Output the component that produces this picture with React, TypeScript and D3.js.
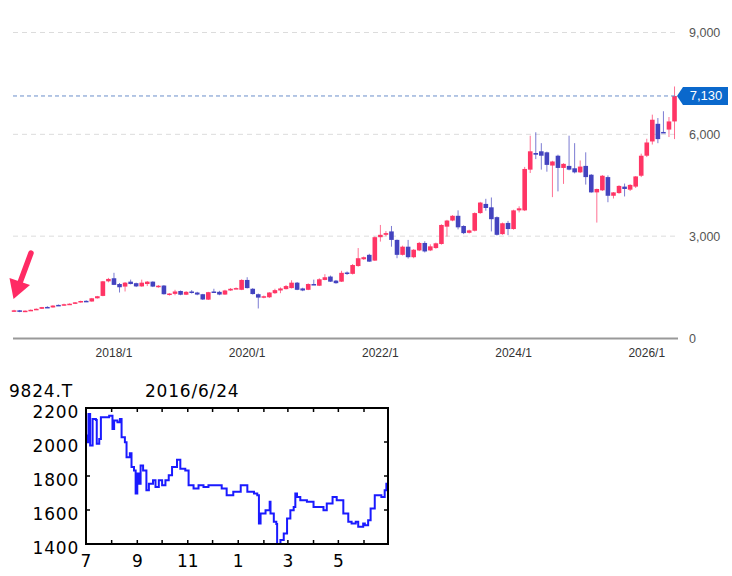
import React from 'react'
import * as d3 from 'd3'

// monthly candles, 2016/7 .. 2026/6 : [open, high, low, close]
const candles: [number, number, number, number][] = [
  [780, 830, 770, 815], [815, 825, 760, 770], [770, 810, 765, 805], [805, 840, 800, 830],
  [830, 870, 825, 860], [860, 915, 855, 910], [915, 935, 895, 900], [900, 965, 895, 955],
  [975, 985, 945, 960], [960, 1010, 950, 995], [995, 1020, 985, 1010], [1010, 1060, 1000, 1050],
  [1050, 1100, 1040, 1090], [1095, 1110, 1060, 1075], [1075, 1180, 1070, 1170], [1170, 1240, 1160, 1230],
  [1240, 1680, 1230, 1670], [1670, 1770, 1640, 1740], [1760, 1920, 1560, 1565], [1590, 1620, 1340, 1495],
  [1515, 1650, 1370, 1630], [1660, 1720, 1580, 1590], [1615, 1630, 1500, 1520], [1520, 1720, 1510, 1630],
  [1590, 1680, 1530, 1660], [1660, 1670, 1500, 1515], [1515, 1560, 1480, 1540], [1545, 1560, 1280, 1290],
  [1275, 1320, 1250, 1310], [1300, 1420, 1260, 1370], [1385, 1400, 1260, 1275], [1275, 1380, 1265, 1360],
  [1370, 1410, 1310, 1330], [1340, 1360, 1260, 1280], [1290, 1300, 1120, 1135], [1130, 1360, 1120, 1350],
  [1370, 1450, 1340, 1350], [1360, 1390, 1260, 1280], [1280, 1420, 1270, 1400], [1400, 1470, 1390, 1450],
  [1450, 1490, 1440, 1470], [1420, 1730, 1410, 1710], [1710, 1790, 1460, 1470], [1450, 1470, 1280, 1295],
  [1290, 1310, 870, 1190], [1190, 1250, 1170, 1230], [1200, 1350, 1180, 1340], [1320, 1450, 1300, 1410],
  [1400, 1490, 1320, 1460], [1440, 1560, 1430, 1530], [1470, 1700, 1460, 1630], [1630, 1650, 1410, 1420],
  [1460, 1480, 1380, 1400], [1420, 1610, 1410, 1590], [1590, 1720, 1560, 1570], [1540, 1760, 1530, 1730],
  [1710, 1880, 1700, 1790], [1810, 1840, 1650, 1660], [1690, 1710, 1600, 1615], [1660, 1980, 1650, 1920],
  [1930, 1960, 1860, 1890], [1890, 2180, 1870, 2150], [2120, 2650, 2100, 2350], [2320, 2400, 2300, 2380],
  [2450, 2480, 2240, 2250], [2280, 2990, 2270, 2970], [2970, 3330, 2840, 3040], [3040, 3150, 3000, 3090],
  [3140, 3300, 2690, 2890], [2890, 2900, 2350, 2450], [2450, 2720, 2430, 2690], [2690, 2890, 2340, 2380],
  [2380, 2620, 2350, 2600], [2580, 2830, 2560, 2800], [2800, 2850, 2520, 2550], [2580, 2760, 2560, 2700],
  [2650, 2810, 2630, 2790], [2770, 3350, 2750, 3330], [3280, 3480, 2990, 3460], [3460, 3620, 3440, 3600],
  [3600, 3760, 3200, 3260], [3300, 3320, 3060, 3090], [3100, 3190, 3080, 3170], [3160, 3700, 3140, 3680],
  [3680, 4010, 3660, 3990], [3950, 4100, 3750, 3830], [3850, 4140, 3140, 3500], [3560, 3580, 3020, 3040],
  [3060, 3400, 3040, 3380], [3390, 3450, 3030, 3210], [3210, 3780, 3190, 3760], [3760, 3880, 3700, 3820],
  [3760, 5040, 3740, 4980], [4960, 5960, 4860, 5500], [5450, 6060, 5270, 5400], [5500, 5740, 4960, 5370],
  [5470, 5490, 4900, 5100], [5080, 5220, 4150, 5200], [5370, 5400, 4320, 5010], [5010, 5150, 4540, 5130],
  [5070, 5960, 4940, 4960], [5000, 5740, 4850, 4880], [4880, 5230, 4860, 5050], [5070, 5470, 4520, 4740],
  [4810, 4830, 4280, 4290], [4290, 4400, 3400, 4390], [4350, 4800, 4330, 4780], [4740, 4790, 4000, 4190],
  [4190, 4300, 4110, 4290], [4270, 4500, 4250, 4480], [4460, 4550, 4170, 4390], [4370, 4530, 4330, 4510],
  [4460, 4770, 4420, 4760], [4780, 5430, 4740, 5370], [5370, 5870, 5330, 5760], [5790, 6580, 5700, 6430],
  [6310, 6480, 5740, 5860], [6070, 6680, 6040, 6050], [6140, 6510, 5920, 6380], [6380, 7410, 5860, 7130],
]
const startYear = 2016
const startMonth = 7
const xTickLabels = ['2018/1', '2020/1', '2022/1', '2024/1', '2026/1']
const yTicks = [0, 3000, 6000, 9000]
const lastPrice = 7130

// small one-year chart: days from 2015/7/1, closing price
const lineDays = [0, 1, 3, 5, 8, 12, 13, 16, 18, 24, 28, 32, 34, 38, 41, 43, 47, 49, 53, 55, 58, 60, 62, 64, 66, 69, 73, 76,
  81, 84, 88, 92, 96, 100, 104, 110, 114, 120, 124, 130, 136, 142, 148, 158, 164, 170, 178, 187, 195, 203, 207, 209, 211,
  217, 222, 223, 227, 230, 231, 235, 239, 243, 247, 251, 253, 255, 259, 267, 275, 283, 287, 291, 298, 303, 307, 311, 317,
  321, 326, 329, 335, 337, 341, 344, 349, 354, 357, 361, 363, 365]
const lineValues = [2038, 1999, 2165, 1980, 2136, 2130, 1990, 2018, 2145, 2145, 2155, 2077, 2126, 2116, 2136, 2028, 1999,
  1911, 1934, 1853, 1833, 1697, 1814, 1755, 1862, 1833, 1716, 1755, 1775, 1736, 1775, 1745, 1775, 1804, 1853, 1896, 1843,
  1833, 1745, 1726, 1745, 1736, 1745, 1745, 1726, 1687, 1707, 1745, 1707, 1697, 1687, 1521, 1580, 1599, 1648, 1580, 1531,
  1517, 1400, 1423, 1462, 1550, 1599, 1618, 1697, 1677, 1658, 1648, 1618, 1618, 1599, 1638, 1677, 1658, 1658, 1580, 1531,
  1521, 1531, 1501, 1521, 1511, 1540, 1609, 1687, 1687, 1677, 1716, 1755, 1638]
const miniTitle = '9824.T'
const miniDate = '2016/6/24'
const miniYTicks = [1400, 1600, 1800, 2000, 2200]
const miniStart = new Date(2015, 6, 1)
const miniEnd = new Date(2016, 5, 30)

const UP = '#ff3565'
const DOWN = '#4343bf'

export default function App() {
  const labels = candles.map((_, i) => {
    const m = startMonth - 1 + i
    return `${startYear + Math.floor(m / 12)}/${(m % 12) + 1}`
  })
  const x = d3.scaleBand<string>().domain(labels).range([11.3, 677.3])
  const y = d3.scaleLinear().domain([0, 9000]).range([338, 32.5])
  const bw = 4.6
  const cx = (l: string) => (x(l) as number) + x.bandwidth() / 2
  const py = y(lastPrice)

  const mx = d3.scaleTime().domain([miniStart, miniEnd]).range([86, 388])
  const my = d3.scaleLinear().domain([1400, 2200]).range([544, 408])
  const pts: [Date, number][] = lineDays.map((d, i) => [d3.timeDay.offset(miniStart, d), lineValues[i]])
  const line = d3.line<[Date, number]>().x(d => mx(d[0])).y(d => my(d[1])).curve(d3.curveStepAfter)
  const monthTicks = d3.timeMonth.range(miniStart, miniEnd)
  const monthLabels = monthTicks.filter(d => d.getMonth() % 2 === 0)

  const font = '"Liberation Sans", Arial, sans-serif'
  const miniFont = '"DejaVu Sans", sans-serif'

  return (
    <svg width={732} height={576} style={{ position: 'absolute', left: 0, top: 0, background: '#fff' }}>
      {/* grid */}
      {yTicks.filter(t => t > 0).map(t => (
        <line key={t} x1={13} x2={676} y1={y(t)} y2={y(t)} stroke="#dcdcdc" strokeDasharray="5 4" />
      ))}
      {yTicks.map(t => (
        <text key={t} x={689} y={y(t) + 4.5} fontFamily={font} fontSize={12.5} fill="#555">
          {d3.format(',')(t)}
        </text>
      ))}
      {/* candles */}
      {candles.map(([o, h, l, c], i) => {
        const col = c >= o ? UP : DOWN
        const xc = cx(labels[i])
        const top = y(Math.max(o, c))
        const bot = y(Math.min(o, c))
        return (
          <g key={i}>
            <line x1={xc} x2={xc} y1={y(h)} y2={y(l)} stroke={col} strokeOpacity={0.7} strokeWidth={1} />
            <rect x={xc - bw / 2} y={top} width={bw} height={Math.max(1.5, bot - top)} fill={col} />
          </g>
        )
      })}
      {/* last price */}
      <line x1={13} x2={680} y1={py} y2={py} stroke="#6b8fcb" strokeDasharray="4 3" />
      <polygon
        points={`677,${py} 683,${py - 9} 728,${py - 9} 728,${py + 9} 683,${py + 9}`}
        fill="#0a68cc"
      />
      <text x={706} y={py + 4.5} textAnchor="middle" fontFamily={font} fontSize={13} fill="#fff">
        {d3.format(',')(lastPrice)}
      </text>
      {/* x axis */}
      <line x1={13} x2={678} y1={338.5} y2={338.5} stroke="#999" strokeWidth={2} />
      {xTickLabels.map(t => (
        <text key={t} x={cx(t)} y={357} textAnchor="middle" fontFamily={font} fontSize={12} fill="#333">
          {t}
        </text>
      ))}
      {/* arrow marker */}
      <g fill="#ff1f5c" stroke="none" opacity={0.95}>
        <line x1={31} y1={253} x2={19.5} y2={284} stroke="#ff1f5c" strokeWidth={5.5} strokeLinecap="round" />
        <polygon points="9.5,278 30,285 13.5,299" />
      </g>

      {/* mini chart */}
      <text x={9} y={397} fontFamily={miniFont} fontSize={17} letterSpacing={0.8} fill="#000">{miniTitle}</text>
      <text x={145} y={397} fontFamily={miniFont} fontSize={17} letterSpacing={0.8} fill="#000">{miniDate}</text>
      {miniYTicks.map(t => (
        <g key={t}>
          <text x={79} y={my(t) + 10} textAnchor="end" fontFamily={miniFont} fontSize={17} letterSpacing={0.8} fill="#000">
            {t}
          </text>
          <line x1={86} x2={90} y1={my(t)} y2={my(t)} stroke="#000" strokeWidth={1.5} />
          <line x1={384} x2={388} y1={my(t)} y2={my(t)} stroke="#000" strokeWidth={1.5} />
        </g>
      ))}
      {monthTicks.map((d, i) => (
        <g key={i}>
          <line x1={mx(d)} x2={mx(d)} y1={408} y2={412} stroke="#000" strokeWidth={1.5} />
          <line x1={mx(d)} x2={mx(d)} y1={540} y2={544} stroke="#000" strokeWidth={1.5} />
        </g>
      ))}
      {monthLabels.map((d, i) => (
        <text key={i} x={mx(d)} y={567} textAnchor="middle" fontFamily={miniFont} fontSize={17} fill="#000">
          {d.getMonth() + 1}
        </text>
      ))}
      <path d={line(pts) ?? ''} fill="none" stroke="#1a1aff" strokeWidth={2} />
      <rect x={86} y={408} width={302} height={136} fill="none" stroke="#000" strokeWidth={2} />
    </svg>
  )
}
